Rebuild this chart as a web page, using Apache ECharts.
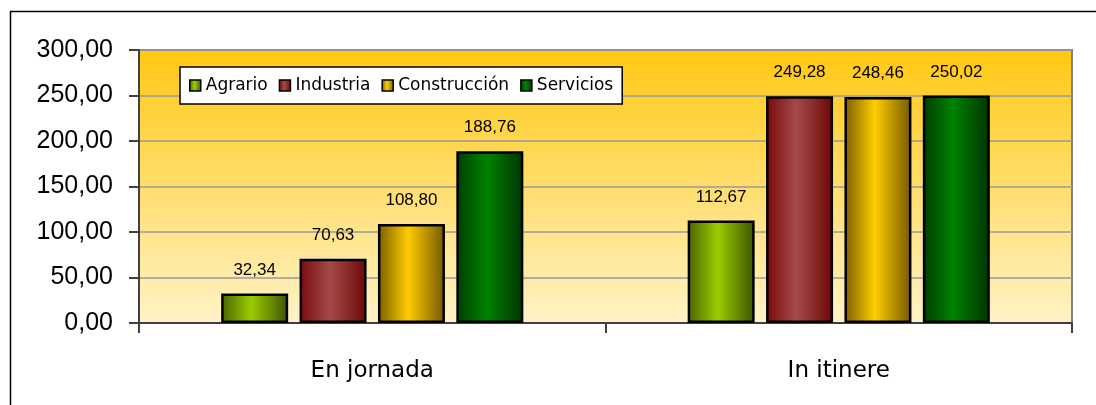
<!DOCTYPE html>
<html>
<head>
<meta charset="utf-8">
<script src="https://cdn.jsdelivr.net/npm/echarts@6/dist/echarts.min.js"></script>
<style>
  html, body { margin: 0; padding: 0; background: #fff; }
  #chart { width: 1096px; height: 405px; }
</style>
</head>
<body>
<div id="chart"></div>
<script>
// datos
const categories = ['En jornada', 'In itinere']
const sectors = ['Agrario', 'Industria', 'Construcción', 'Servicios']
const agrario = [32.34, 112.67]
const industria = [70.63, 249.28]
const construccion = [108.8, 248.46]
const servicios = [188.76, 250.02]
const yTicks = [0, 50, 100, 150, 200, 250, 300]

// colores (borde oscuro, centro claro)
const shades = [
  ['#4a6300', '#9acd00', '#3d5200'],
  ['#780a0a', '#a44a4a', '#6e0606'],
  ['#7a5e00', '#ffcc00', '#735800'],
  ['#003d00', '#008200', '#003300'],
]

const ARIAL = 'Arial, "Liberation Sans", sans-serif'
const fmt = (v) => v.toFixed(2).replace('.', ',')

function barColor(c) {
  return new echarts.graphic.LinearGradient(0, 0, 1, 0, [
    { offset: 0, color: c[0] },
    { offset: 0.45, color: c[1] },
    { offset: 1, color: c[2] },
  ])
}

const values = [agrario, industria, construccion, servicios]
const series = sectors.map((name, i) => ({
  name,
  type: 'bar',
  barWidth: 67,
  barGap: '17%',
  data: values[i],
  itemStyle: {
    color: barColor(shades[i]),
    borderColor: '#000',
    borderWidth: 2.5,
  },
  label: {
    show: true,
    position: 'top',
    distance: 15,
    fontFamily: ARIAL,
    fontSize: 17,
    color: '#000',
    formatter: (p) => fmt(p.value),
  },
}))

const chart = echarts.init(document.getElementById('chart'))
chart.setOption({
  animation: false,
  graphic: [
    { type: 'line', shape: { x1: 10.5, y1: 11, x2: 10.5, y2: 405 }, style: { stroke: '#000', lineWidth: 1.5 } },
    { type: 'line', shape: { x1: 10, y1: 11.5, x2: 1096, y2: 11.5 }, style: { stroke: '#000', lineWidth: 1.5 } },
  ],
  grid: {
    left: 139,
    right: 24,
    top: 50,
    bottom: 82,
    show: true,
    borderColor: '#808080',
    borderWidth: 2,
    backgroundColor: new echarts.graphic.LinearGradient(0, 0, 0, 1, [
      { offset: 0, color: '#ffc812' },
      { offset: 1, color: '#fff3c9' },
    ]),
  },
  legend: {
    data: sectors,
    left: 180,
    top: 67,
    orient: 'horizontal',
    backgroundColor: '#fff',
    borderColor: '#000',
    borderWidth: 1.5,
    borderRadius: 0,
    padding: [10, 9, 10, 9],
    itemWidth: 11,
    itemHeight: 11,
    itemGap: 11,
    icon: 'rect',
    itemStyle: { borderColor: '#000', borderWidth: 1.5 },
    textStyle: { fontFamily: 'DejaVu Sans', fontSize: 17, color: '#000' },
  },
  xAxis: {
    type: 'category',
    data: categories,
    axisLine: { show: true, lineStyle: { color: '#404040', width: 2 } },
    axisTick: { show: true, length: 10, lineStyle: { color: '#404040', width: 2 } },
    axisLabel: {
      margin: 37,
      fontFamily: 'DejaVu Sans',
      fontSize: 23,
      color: '#000',
    },
  },
  yAxis: {
    type: 'value',
    min: yTicks[0],
    max: yTicks[yTicks.length - 1],
    interval: 50,
    axisLine: { show: true, lineStyle: { color: '#404040', width: 2 } },
    axisTick: { show: true, length: 10, lineStyle: { color: '#404040', width: 2 } },
    splitLine: { show: true, lineStyle: { color: '#9a9a9a', width: 1.5 } },
    axisLabel: {
      margin: 26,
      fontFamily: ARIAL,
      fontSize: 25,
      color: '#000',
      formatter: (v) => fmt(v),
    },
  },
  series,
})
</script>
</body>
</html>
